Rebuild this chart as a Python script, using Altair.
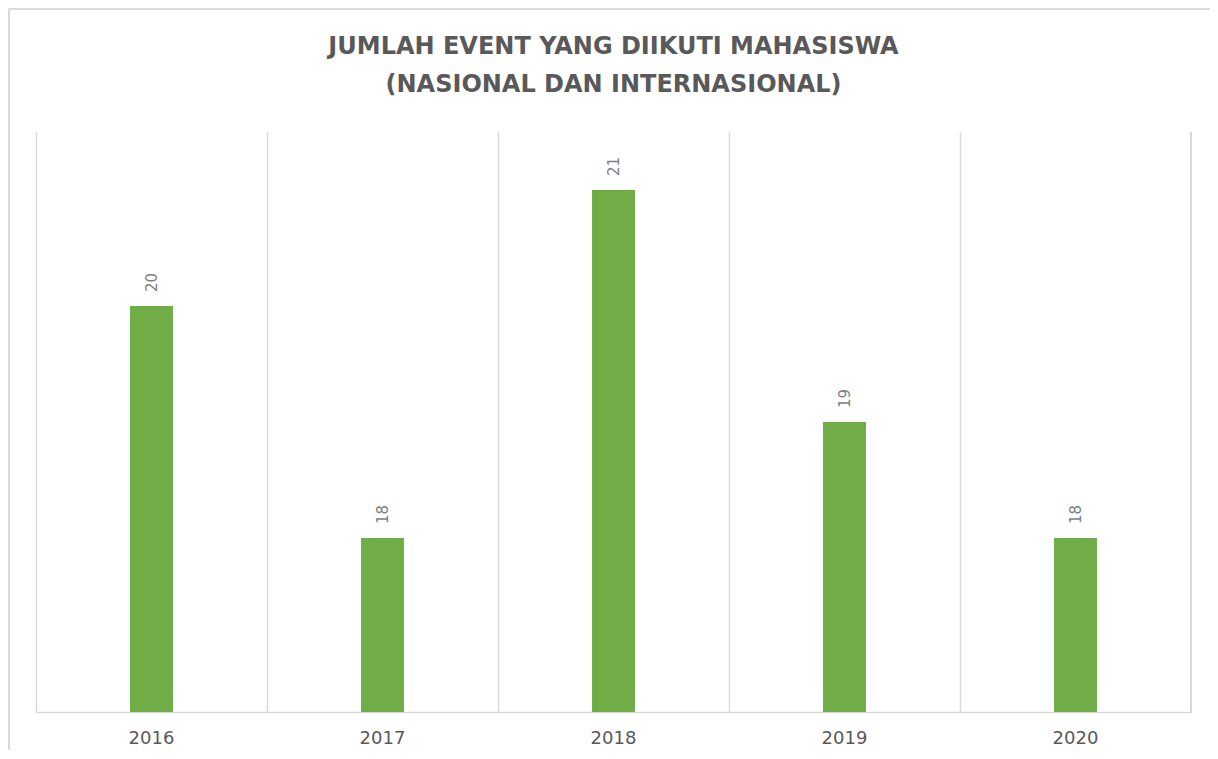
import altair as alt
import pandas as pd

years = ["2016", "2017", "2018", "2019", "2020"]
counts = [20, 18, 21, 19, 18]
title_lines = ["JUMLAH EVENT YANG DIIKUTI MAHASISWA", "(NASIONAL DAN INTERNASIONAL)"]

df = pd.DataFrame({"year": years, "count": counts})

W, H = 1155, 580
ymin, ymax = 16.5, 21.5

x = alt.X("year:N", sort=years, title=None,
          scale=alt.Scale(paddingInner=0, paddingOuter=0),
          axis=alt.Axis(labelAngle=0, labelFont="DejaVu Sans", labelFontSize=18,
                        labelColor="#595959", labelPadding=17, ticks=False,
                        domain=True, domainColor="#D9D9D9", domainWidth=1.5,
                        grid=True, gridColor="#D9D9D9", gridWidth=1.5,
                        bandPosition=0))
y = alt.Y("count:Q", axis=None,
          scale=alt.Scale(domain=[ymin, ymax], zero=False, nice=False))

bars = alt.Chart(df).mark_bar(color="#70AD47", width=alt.RelativeBandSize(0.186)).encode(
    x=x, y=y, y2=alt.datum(ymin)
)

labels = alt.Chart(df).mark_text(
    angle=270, align="left", baseline="middle", dx=14,
    font="DejaVu Sans", fontSize=15, color="#7F7F7F"
).encode(x=alt.X("year:N", sort=years), y=y, text="count:Q")

right_line = alt.Chart(df).mark_rule(color="#D9D9D9", strokeWidth=1.5).encode(
    x=alt.value(W), y=alt.value(0), y2=alt.value(H)
)

border = alt.Chart(df).mark_rect(fill=None, stroke="#D9D9D9", strokeWidth=1.2, clip=False).encode(
    x=alt.value(-27), x2=alt.value(W + 40), y=alt.value(-123), y2=alt.value(H + 80)
)

chart = alt.layer(border, bars, labels, right_line).properties(
    width=W, height=H,
    title=alt.TitleParams(title_lines, font="DejaVu Sans", fontSize=24, fontWeight="bold",
                          color="#595959", lineHeight=38, anchor="middle", offset=-89,
                          frame="group"),
    padding={"left": 28, "top": 124, "right": 19, "bottom": 38},
    autosize=alt.AutoSizeParams(type="none"),
).configure_view(stroke=None)

chart.save("out.html", embed_options={"renderer": "svg", "actions": False})
